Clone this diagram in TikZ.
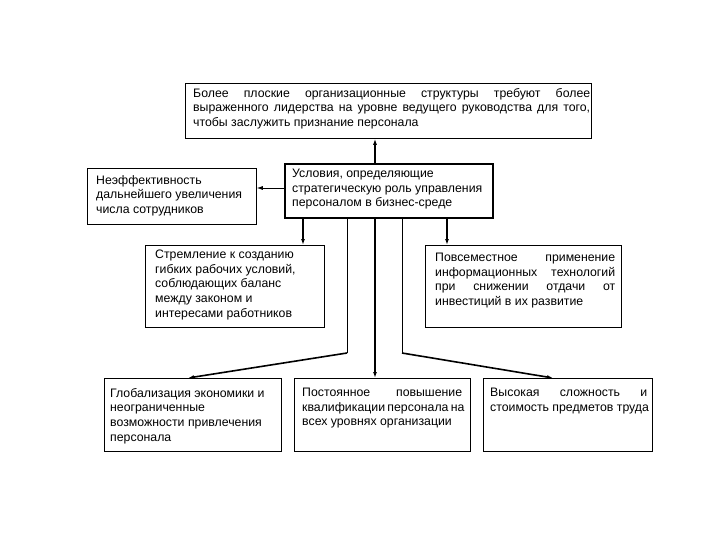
\documentclass[tikz,border=0pt]{standalone}
\usepackage{fontspec}
\setmainfont{Liberation Sans}
\usetikzlibrary{arrows.meta}
\begin{document}
\begin{tikzpicture}[x=1pt,y=-1pt,
  box/.style={draw,line width=0.8pt,inner sep=0pt,anchor=north west},
  tbox/.style={anchor=north west,inner sep=0pt,align=left,font=\fontsize{12.3}{14.6}\selectfont},
  arr/.style={-{Latex[length=6pt,width=4pt]},line width=1.6pt},
  thinarr/.style={-{Latex[length=6pt,width=4pt]},line width=0.8pt}]
\useasboundingbox (0,0) rectangle (720,540);
% boxes
\node[box,minimum width=406pt,minimum height=55pt] (top) at (185,83) {};
\node[box,minimum width=169pt,minimum height=56pt] (left) at (87,168) {};
\node[box,line width=1.8pt,minimum width=208pt,minimum height=54pt] (ctr) at (284,163) {};
\node[box,minimum width=179pt,minimum height=82pt] (ml) at (145,245) {};
\node[box,minimum width=196pt,minimum height=82pt] (mr) at (425,245) {};
\node[box,minimum width=177pt,minimum height=73pt] (bl) at (104,378) {};
\node[box,minimum width=176pt,minimum height=73pt] (bm) at (294,378) {};
\node[box,minimum width=169pt,minimum height=73pt] (br) at (483,378) {};
% texts
\node[tbox] (ttop) at (193,88) {\makebox[397pt][s]{Более плоские организационные структуры требуют более}\\\makebox[397pt][s]{выраженного лидерства на уровне ведущего руководства для того,}\\чтобы заслужить признание персонала};
\node[tbox] (tleft) at (96,175) {Неэффективность\\дальнейшего увеличения\\числа сотрудников};
\node[tbox] (tctr) at (292,169) {Условия, определяющие\\стратегическую роль управления\\персоналом в бизнес-среде};
\node[tbox] (tml) at (155,250) {Стремление к созданию\\гибких рабочих условий,\\соблюдающих баланс\\между законом и\\интересами работников};
\node[tbox] (tmr) at (435,253) {\makebox[180pt][s]{Повсеместное применение}\\\makebox[180pt][s]{информационных технологий}\\\makebox[180pt][s]{при снижении отдачи от}\\инвестиций в их развитие};
\node[tbox] (tbl) at (110,388) {Глобализация экономики и\\неограниченные\\возможности привлечения\\персонала};
\node[tbox] (tbm) at (302,388) {\makebox[160pt][s]{Постоянное повышение}\\\makebox[160pt][s]{квалификации персонала на}\\всех уровнях организации};
\node[tbox] (tbr) at (490,388) {\makebox[157pt][s]{Высокая сложность и}\\стоимость предметов труда};
% connectors
\draw[arr] (375,0 |- ctr.north) -- (375,0 |- top.south);
\draw[thinarr] (0,188 -| ctr.west) -- (0,188 -| left.east);
\draw[arr] (303,0 |- ctr.south) -- (303,0 |- ml.north);
\draw[arr] (447,0 |- ctr.south) -- (447,0 |- mr.north);
\draw[arr] (375,0 |- ctr.south) -- (375,0 |- bm.north);
\coordinate (k1) at (347,353);
\coordinate (k2) at (402,353);
\draw[line width=0.8pt] (347,0 |- ctr.south) -- (k1);
\draw[arr] (k1) -- (188,0 |- bl.north);
\draw[line width=0.8pt] (402,0 |- ctr.south) -- (k2);
\draw[arr] (k2) -- (553,0 |- br.north);
\end{tikzpicture}
\end{document}
